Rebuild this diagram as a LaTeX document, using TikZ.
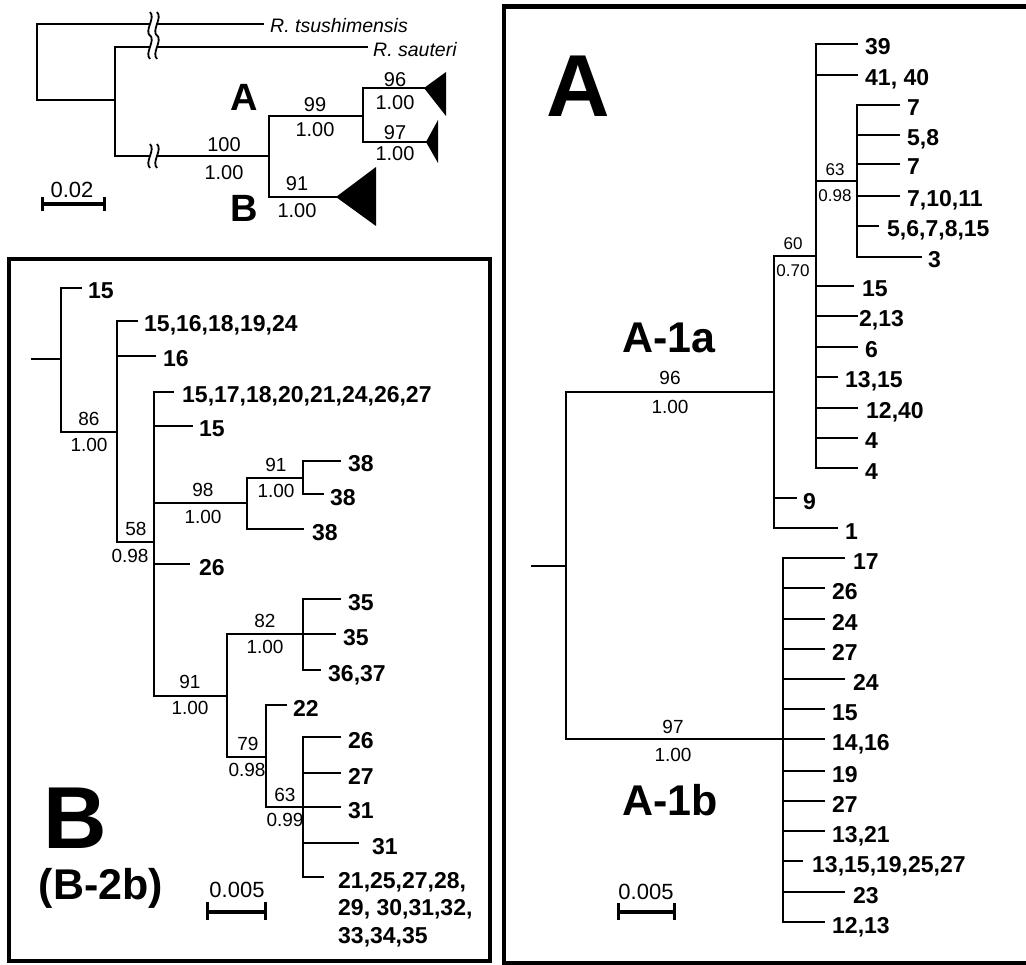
\documentclass[tikz,border=0pt]{standalone}
\usepackage{fontspec}
\setmainfont{Liberation Sans}
\newcounter{lfn}
\newcommand{\lf}[5]{\stepcounter{lfn}\draw[br] (#1,#3) -- (#2,#3); \node[leaf] (leaf\arabic{lfn}) at (#4,#3) {#5};}
\newcommand{\supl}[5][supB]{\node[#1] (#2) at (#3,#4) {#5};}
\newcommand{\squig}[2]{\draw[line width=1.8pt] (#1,#2-12) .. controls (#1+6,#2-6) and (#1-6,#2+6) .. (#1,#2+12);}
\begin{document}
\begin{tikzpicture}[x=1pt,y=-1pt,
  br/.style={line width=2.4pt,line cap=rect},
  leaf/.style={font=\fontsize{23}{27}\selectfont\bfseries,anchor=base west,inner sep=0pt,yshift=-11pt},
  supB/.style={font=\fontsize{19}{22}\selectfont,anchor=base,inner sep=0pt,yshift=-6.8pt},
  supT/.style={font=\fontsize{20}{23}\selectfont,anchor=base,inner sep=0pt,yshift=-7.2pt},
  supS/.style={font=\fontsize{17}{20}\selectfont,anchor=base,inner sep=0pt,yshift=-6.1pt},
  big/.style={font=\fontsize{88}{90}\selectfont\bfseries,anchor=base,inner sep=0pt},
  mid/.style={font=\fontsize{43}{46}\selectfont\bfseries,anchor=base,inner sep=0pt},
  scl/.style={font=\fontsize{22}{25}\selectfont,anchor=base,inner sep=0pt},
  sbar/.style={line width=4pt},
  stick/.style={line width=3pt},
  frame/.style={line width=4.5pt}]
\useasboundingbox (0,0) rectangle (1026,965);
% ---------------- overview tree ----------------
\draw[br] (149,24) -- (37,24) -- (37,100) -- (115,100);
\draw[br] (157,24) -- (263,24);
\node[font=\fontsize{19.5}{22}\selectfont\itshape,anchor=base west,inner sep=0pt] (rts) at (270,33) {R. tsushimensis};
\draw[br] (115,47) -- (115,156);
\draw[br] (115,47) -- (149,47);
\draw[br] (157,47) -- (367,47);
\node[font=\fontsize{19.5}{22}\selectfont\itshape,anchor=base west,inner sep=0pt] (rsa) at (373,57) {R. sauteri};
\draw[br] (115,156) -- (149,156);
\draw[br] (157,156) -- (269,156);
\squig{150}{24}\squig{157}{24}
\squig{150}{47}\squig{157}{47}
\squig{150}{156}\squig{157}{156}
\supl[supT]{t100}{224}{144}{100}
\supl[supT]{t100b}{224}{172}{1.00}
\draw[br] (269,116) -- (269,197);
\draw[br] (269,116) -- (363,116);
\supl[supT]{t99}{315}{104}{99}
\supl[supT]{t99b}{315}{129}{1.00}
\draw[br] (363,88) -- (363,142);
\draw[br] (363,88) -- (425,88);
\draw[br] (363,142) -- (427,142);
\draw[br] (269,197) -- (337,197);
\fill (424,88) -- (446,72) -- (446,116) -- cycle;
\fill (426,142) -- (438,120) -- (438,163) -- cycle;
\fill (336,197) -- (376,167) -- (376,226) -- cycle;
\supl[supT]{t96}{395}{79}{96}
\supl[supT]{t96b}{395}{102}{1.00}
\supl[supT]{t97}{395}{132}{97}
\supl[supT]{t97b}{395}{153}{1.00}
\supl[supT]{t91}{297}{183}{91}
\supl[supT]{t91b}{297}{210}{1.00}
\node[font=\fontsize{38}{40}\selectfont\bfseries,anchor=base,inner sep=0pt] (tA) at (244,111) {A};
\node[font=\fontsize{38}{40}\selectfont\bfseries,anchor=base,inner sep=0pt] (tB) at (244,222) {B};
\draw[sbar] (42,204) -- (104,204);
\draw[stick] (42,197) -- (42,211);
\draw[stick] (104,197) -- (104,211);
\node[scl] (s002) at (72,198) {0.02};
% ---------------- panel B ----------------
\draw[frame] (9,259) rectangle (490,961);
\draw[br] (32,359) -- (61,359);
\draw[br] (61,288) -- (61,432);
\lf{61}{81}{288}{88}{15}
\draw[br] (61,432) -- (117,432);
\supl{b86}{89}{419}{86}
\supl{b86b}{89}{445}{1.00}
\draw[br] (117,321) -- (117,542);
\lf{117}{137}{321}{144}{15,16,18,19,24}
\lf{117}{155}{356}{163}{16}
\draw[br] (117,542) -- (154,542);
\supl{b58}{136}{529}{58}
\supl{b58b}{130}{556}{0.98}
\draw[br] (154,392) -- (154,696);
\lf{154}{173}{392}{182}{15,17,18,20,21,24,26,27}
\lf{154}{192}{426}{199}{15}
\draw[br] (154,503) -- (247,503);
\supl{b98}{203}{490}{98}
\supl{b98b}{203}{517}{1.00}
\draw[br] (247,478) -- (247,529);
\draw[br] (247,478) -- (303,478);
\supl{b91a}{276}{465}{91}
\supl{b91ab}{276}{491}{1.00}
\draw[br] (303,461) -- (303,494);
\lf{303}{340}{461}{348}{38}
\lf{303}{323}{494}{330}{38}
\lf{247}{303}{529}{312}{38}
\lf{154}{189}{564}{199}{26}
\draw[br] (154,696) -- (227,696);
\supl{b91}{190}{682}{91}
\supl{b91b}{190}{708}{1.00}
\draw[br] (227,634) -- (227,757);
\draw[br] (227,634) -- (303,634);
\supl{b82}{265}{621}{82}
\supl{b82b}{265}{647}{1.00}
\draw[br] (303,599) -- (303,670);
\lf{303}{340}{599}{348}{35}
\lf{303}{335}{634}{343}{35}
\lf{303}{320}{670}{328}{36,37}
\draw[br] (227,757) -- (266,757);
\supl{b79}{248}{744}{79}
\supl{b79b}{247}{770}{0.98}
\draw[br] (266,705) -- (266,807);
\lf{266}{286}{705}{293}{22}
\draw[br] (266,807) -- (303,807);
\supl{b63}{285}{795}{63}
\supl{b63b}{285}{820}{0.99}
\draw[br] (303,737) -- (303,877);
\lf{303}{340}{737}{348}{26}
\lf{303}{340}{773}{348}{27}
\lf{303}{340}{807}{348}{31}
\lf{303}{358}{843}{372}{31}
\lf{303}{323}{877}{338}{21,25,27,28,}
\node[leaf] (bl2) at (338,904) {29, 30,31,32,};
\node[leaf] (bl3) at (338,932) {33,34,35};
\node[big] (bigB) at (75,848) {B};
\node[mid] (b2b) at (101,899) {(B-2b)};
\draw[sbar] (207,912) -- (265,912);
\draw[stick] (207,902) -- (207,920);
\draw[stick] (265,902) -- (265,920);
\node[scl] (sB) at (237,897) {0.005};
% ---------------- panel A ----------------
\draw[frame] (1040,6.5) -- (504,6.5) -- (504,963) -- (1040,963);
\node[big] (bigA) at (578,117) {A};
\draw[br] (532,566) -- (566,566);
\draw[br] (566,392) -- (566,739);
\draw[br] (566,392) -- (774,392);
\supl{a96}{670}{378}{96}
\supl{a96b}{670}{407}{1.00}
\draw[br] (774,256) -- (774,528);
\draw[br] (774,256) -- (816,256);
\supl[supS]{a60}{793}{243}{60}
\supl[supS]{a60b}{793}{270}{0.70}
\draw[br] (816,44) -- (816,468);
\lf{816}{857}{44}{865}{39}
\lf{816}{857}{75}{865}{41, 40}
\draw[br] (816,181) -- (857,181);
\supl[supS]{a63}{835}{169}{63}
\supl[supS]{a63b}{835}{195}{0.98}
\draw[br] (857,105) -- (857,257);
\lf{857}{899}{105}{907}{7}
\lf{857}{899}{135}{907}{5,8}
\lf{857}{899}{164}{907}{7}
\lf{857}{899}{196}{907}{7,10,11}
\lf{857}{878}{226}{887}{5,6,7,8,15}
\lf{857}{921}{257}{928}{3}
\lf{816}{853}{286}{862}{15}
\lf{816}{857}{316}{859}{2,13}
\lf{816}{857}{347}{865}{6}
\lf{816}{837}{377}{845}{13,15}
\lf{816}{857}{408}{866}{12,40}
\lf{816}{857}{438}{865}{4}
\lf{816}{857}{468}{865}{4}
\lf{774}{796}{498}{803}{9}
\lf{774}{837}{528}{845}{1}
\node[mid] (a1a) at (669,353) {A-1a};
\draw[br] (566,739) -- (783,739);
\supl{a97}{673}{727}{97}
\supl{a97b}{673}{755}{1.00}
\draw[br] (783,558) -- (783,922);
\lf{783}{844}{558}{853}{17}
\lf{783}{824}{588}{832}{26}
\lf{783}{824}{619}{832}{24}
\lf{783}{824}{649}{832}{27}
\lf{783}{844}{679}{853}{24}
\lf{783}{824}{709}{832}{15}
\lf{783}{824}{739}{832}{14,16}
\lf{783}{824}{771}{832}{19}
\lf{783}{824}{801}{832}{27}
\lf{783}{824}{831}{832}{13,21}
\lf{783}{802}{861}{812}{13,15,19,25,27}
\lf{783}{844}{892}{853}{23}
\lf{783}{824}{922}{832}{12,13}
\node[mid] (a1b) at (670,815) {A-1b};
\draw[sbar] (618,912) -- (674,912);
\draw[stick] (618,903) -- (618,920);
\draw[stick] (674,903) -- (674,920);
\node[scl] (sA) at (646,899) {0.005};
\end{tikzpicture}
\end{document}
